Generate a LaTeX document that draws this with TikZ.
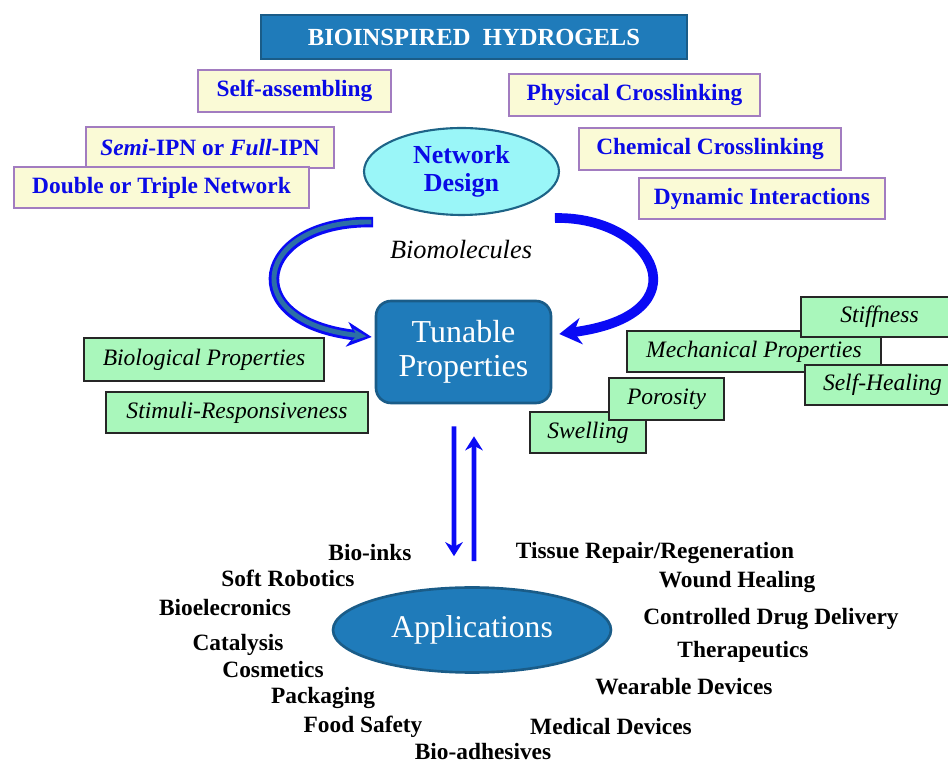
\documentclass[tikz,border=0pt]{standalone}
\usepackage{fontspec}
\setmainfont{Liberation Serif}
\usetikzlibrary{arrows.meta,shapes.geometric}

\definecolor{boxblue}{HTML}{1F7BBA}
\definecolor{boxedge}{HTML}{1A5C88}
\definecolor{yelfill}{HTML}{FAFAD6}
\definecolor{yeledge}{HTML}{A27CC0}
\definecolor{grnfill}{HTML}{A9F7BB}
\definecolor{cyanfill}{HTML}{9AF6F8}
\definecolor{cyanedge}{HTML}{1E6487}
\definecolor{txtblue}{HTML}{0A0AE6}
\definecolor{arrblue}{HTML}{0A0AF5}
\definecolor{steel}{HTML}{2C6FA6}

\tikzset{
	ybox/.style={draw=yeledge, fill=yelfill, line width=1.1pt, text=txtblue, inner sep=0pt,
		font=\fontsize{13.3}{15}\selectfont\bfseries},
	gbox/.style={draw=black!85, fill=grnfill, line width=1pt, inner sep=0pt,
		font=\fontsize{13.4}{15}\selectfont\itshape},
	applbl/.style={font=\fontsize{13.3}{15}\selectfont\bfseries},
	vline/.style={arrblue, line width=2.8pt, -{Stealth[length=8pt,width=10pt]}}
}

\begin{document}
\begin{tikzpicture}[x=0.02cm, y=-0.02cm]
	\useasboundingbox (0,0) rectangle (948,763);
	%title
	\node (title) at (474,37) [draw=boxedge, fill=boxblue, line width=1.5pt, text=white,
		minimum width=8.52cm, minimum height=0.88cm,
		font=\fontsize{14}{16}\selectfont\bfseries]{BIOINSPIRED\ \ HYDROGELS};
	
	%network design
	\node (net) at (461.5,171.5) [ellipse, draw=cyanedge, fill=cyanfill, line width=1.2pt,
		minimum width=3.9cm, minimum height=1.74cm, inner sep=0pt, text=txtblue, align=center,
		font=\fontsize{14.8}{16}\selectfont\bfseries]{Network\\Design};
	\node (selfas) at (294.5,91) [ybox, minimum width=3.86cm, minimum height=0.84cm]{Self-assembling};
	\node (ipn) at (210,147.5) [ybox, minimum width=4.96cm, minimum height=0.82cm]{\textit{Semi}-IPN or \textit{Full}-IPN};
	\node (dtn) at (161.5,187.5) [ybox, minimum width=5.9cm, minimum height=0.82cm]{Double or Triple Network};
	\node (phys) at (634.5,95) [ybox, minimum width=5.02cm, minimum height=0.84cm]{Physical Crosslinking};
	\node (chem) at (710,149) [ybox, minimum width=5.24cm, minimum height=0.84cm]{Chemical Crosslinking};
	\node (dyn) at (762,198.5) [ybox, minimum width=4.92cm, minimum height=0.82cm]{Dynamic Interactions};
	
	\node (biomol) at (461,250) [font=\fontsize{15}{17}\selectfont\itshape]{Biomolecules};
	
	%tunable properties
	\node (tun) at (463.5,352) [draw=boxedge, fill=boxblue, line width=1.5pt, rounded corners=0.3cm,
		minimum width=3.5cm, minimum height=2.04cm, text=white, align=center,
		font=\fontsize{18.2}{19}\selectfont]{Tunable\\Properties};
	\node (biol) at (204,359.5) [gbox, minimum width=4.8cm, minimum height=0.86cm]{Biological Properties};
	\node (stim) at (237,412.5) [gbox, minimum width=5.24cm, minimum height=0.82cm]{Stimuli-Responsiveness};
	\node (mech) at (754,351.5) [gbox, minimum width=5.08cm, minimum height=0.82cm]{Mechanical Properties};
	\node (stiff) at (879.5,317) [gbox, minimum width=3.14cm, minimum height=0.8cm]{Stiffness};
	\node (heal) at (882.5,385) [gbox, minimum width=3.1cm, minimum height=0.8cm]{Self-Healing};
	\node (swell) at (588,432.5) [gbox, minimum width=2.32cm, minimum height=0.82cm]{Swelling};
	\node (poro) at (666.5,399) [gbox, minimum width=2.3cm, minimum height=0.84cm]{Porosity};
	
	%curved arrows
	\draw[arrblue, line width=6pt, -{Stealth[length=14pt,width=14pt]}]
		([xshift=-1.77cm,yshift=-0.12cm]net.south) .. controls +(-118,-2) and +(-138,-15) .. ([xshift=-0.06cm,yshift=0.3cm]tun.west);
	\draw[steel, line width=2.8pt, -{Stealth[length=8pt,width=7pt]}, shorten >=3pt, shorten <=1pt]
		([xshift=-1.77cm,yshift=-0.12cm]net.south) .. controls +(-118,-2) and +(-138,-15) .. ([xshift=-0.06cm,yshift=0.3cm]tun.west);
	\draw[arrblue, line width=5.5pt, -{Stealth[length=12.5pt,width=15pt]}]
		([xshift=1.87cm,yshift=-0.04cm]net.south) .. controls +(100,-2) and +(147,-19) .. ([xshift=0.14cm,yshift=0.36cm]tun.east);
	
	%applications
	\node (app) at (472,630) [ellipse, draw=boxedge, fill=boxblue, line width=1.5pt,
		minimum width=5.56cm, minimum height=1.7cm, inner sep=0pt, text=white,
		font=\fontsize{18}{19}\selectfont]{Applications};
	\draw[vline] ([xshift=-0.19cm,yshift=-0.44cm]tun.south) -- ([xshift=-0.36cm,yshift=0.6cm]app.north);
	\draw[vline] ([xshift=0.04cm,yshift=0.5cm]app.north) -- ([xshift=0.21cm,yshift=-0.64cm]tun.south);
	
	\node (inks) at (370,553) [applbl]{Bio-inks};
	\node (robot) at (288,578) [applbl]{Soft Robotics};
	\node (elec) at (225,608) [applbl]{Bioelecronics};
	\node (catal) at (238,645) [applbl]{Catalysis};
	\node (cosm) at (273,670) [applbl]{Cosmetics};
	\node (pack) at (323,698) [applbl]{Packaging};
	\node (food) at (363,727) [applbl]{Food Safety};
	\node (adhes) at (483,752) [applbl]{Bio-adhesives};
	\node (tissue) at (655,553) [applbl]{Tissue Repair/Regeneration};
	\node (wound) at (737,582) [applbl]{Wound Healing};
	\node (drug) at (771,619) [applbl]{Controlled Drug Delivery};
	\node (thera) at (743,652) [applbl]{Therapeutics};
	\node (wear) at (684,687) [applbl]{Wearable Devices};
	\node (med) at (611,727) [applbl]{Medical Devices};
\end{tikzpicture}
\end{document}
